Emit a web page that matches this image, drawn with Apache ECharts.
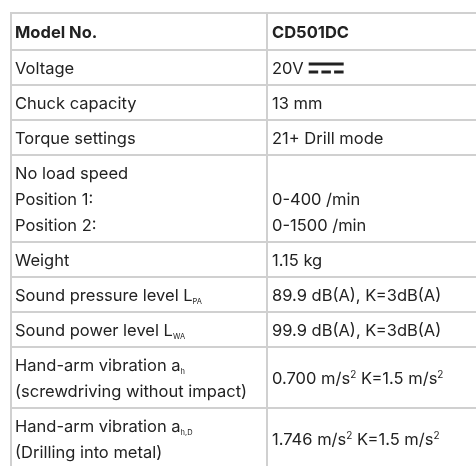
<!DOCTYPE html>
<html>
<head>
<meta charset="utf-8">
<script src="https://cdn.jsdelivr.net/npm/echarts@6/dist/echarts.min.js"></script>
<style>
  html, body { margin: 0; padding: 0; background: #fff; }
  #chart { width: 476px; height: 466px; }
</style>
</head>
<body>
<div id="chart"></div>
<script>
(function () {
    // table content
    var params = [
        'Model No.',
        'Voltage',
        'Chuck capacity',
        'Torque settings',
        'No load speed\nPosition 1:\nPosition 2:',
        'Weight',
        'Sound pressure level L{sub|PA}',
        'Sound power level L{sub|WA}',
        'Hand-arm vibration a{sub|h}\n(screwdriving without impact)',
        'Hand-arm vibration a{sub|h,D}\n(Drilling into metal)'
    ];
    var values = [
        'CD501DC',
        '20V',
        '13 mm',
        '21+ Drill mode',
        ' \n0-400 /min\n0-1500 /min',
        '1.15 kg',
        '89.9 dB(A), K=3dB(A)',
        '99.9 dB(A), K=3dB(A)',
        '0.700 m/s{sup|2} K=1.5 m/s{sup|2}',
        '1.746 m/s{sup|2} K=1.5 m/s{sup|2}'
    ];
    var dcRow = 1; // voltage row gets the DC symbol

    var FONT = 'Inter, "Noto Sans", sans-serif';
    var FONT_SIZE = 16.5;
    var BORDER = '#d0d0d0';
    var TEXT = '#222';
    var LINE_H = 26;

    // row heights from the number of text lines
    var rows = [];
    var y = 0;
    params.forEach(function (p, i) {
        var n = Math.max(p.split('\n').length, values[i].split('\n').length);
        var h = 9 + LINE_H * n + (i === 0 ? 2 : 0);
        rows.push([y, y + h, i]);
        y += h;
    });
    var total = y;

    var ctx = document.createElement('canvas').getContext('2d');
    function textWidth(str, font) {
        ctx.font = font;
        return ctx.measureText(str).width;
    }

    var rich = {
        sub: { fontSize: 7.5, fontFamily: FONT, fill: TEXT, color: TEXT, padding: [12, 0, 0, 0] },
        sup: { fontSize: 10, fontFamily: FONT, fill: TEXT, color: TEXT, padding: [0, 0, 8, 0] }
    };

    function cellText(str, x, cy, bold) {
        return {
            type: 'text',
            style: {
                text: str,
                x: x,
                y: cy,
                fill: TEXT,
                fontFamily: FONT,
                fontSize: FONT_SIZE,
                fontWeight: bold ? 'bold' : 'normal',
                lineHeight: LINE_H,
                align: 'left',
                verticalAlign: 'middle',
                rich: rich
            }
        };
    }

    function renderItem(p, api) {
        var i = api.value(2);
        var p0 = api.coord([0, api.value(0)]);
        var p1 = api.coord([1, api.value(1)]);
        var p2 = api.coord([2, api.value(1)]);
        var cellStyle = { fill: 'none', stroke: BORDER, lineWidth: 2 };
        var cy = (p0[1] + p1[1]) / 2 + 1.5;
        var bold = i === 0;
        var children = [
            { type: 'rect', shape: { x: p0[0], y: p0[1], width: p1[0] - p0[0], height: p1[1] - p0[1] }, style: cellStyle },
            { type: 'rect', shape: { x: p1[0], y: p0[1], width: p2[0] - p1[0], height: p1[1] - p0[1] }, style: cellStyle },
            cellText(params[i], p0[0] + 4, cy, bold),
            cellText(values[i], p1[0] + 5, cy, bold)
        ];
        if (i === dcRow) {
            var sx = p1[0] + 5 + textWidth(values[i], FONT_SIZE + 'px ' + FONT) + 5;
            children.push({ type: 'rect', shape: { x: sx, y: cy - 6.5, width: 35, height: 3 }, style: { fill: TEXT } });
            for (var k = 0; k < 3; k++) {
                children.push({ type: 'rect', shape: { x: sx + k * 12.7, y: cy + 1.5, width: 9.5, height: 3 }, style: { fill: TEXT } });
            }
        }
        return { type: 'group', children: children };
    }

    var chart = echarts.init(document.getElementById('chart'));
    chart.setOption({
        backgroundColor: '#fff',
        animation: false,
        grid: { left: 11, top: 13, width: 512, height: total, outerBoundsMode: 'none', containLabel: false },
        xAxis: { type: 'value', min: 0, max: 2, show: false },
        yAxis: { type: 'value', min: 0, max: total, inverse: true, show: false },
        series: [{
            type: 'custom',
            clip: false,
            renderItem: renderItem,
            data: rows
        }]
    });
})();
</script>
</body>
</html>
